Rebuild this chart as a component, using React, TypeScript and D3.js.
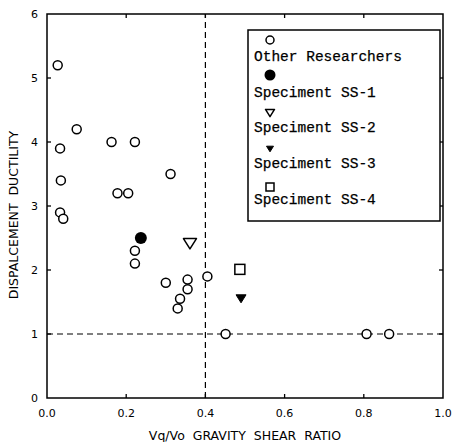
import React from "react";
import * as d3 from "d3";

// values
const otherX = [0.027, 0.075, 0.033, 0.163, 0.222, 0.312, 0.035, 0.178, 0.205, 0.033, 0.041, 0.222, 0.222, 0.3, 0.355, 0.355, 0.336, 0.33, 0.405, 0.451, 0.807, 0.864];
const otherY = [5.2, 4.2, 3.9, 4.0, 4.0, 3.5, 3.4, 3.2, 3.2, 2.9, 2.8, 2.3, 2.1, 1.8, 1.85, 1.7, 1.55, 1.4, 1.9, 1.0, 1.0, 1.0];
const specimens = ["SS-1", "SS-2", "SS-3", "SS-4"];
const specimenX = [0.237, 0.361, 0.49, 0.487];
const specimenY = [2.5, 2.41, 1.55, 2.01];
const legendLabels = ["Other Researchers", "Speciment SS-1", "Speciment SS-2", "Speciment SS-3", "Speciment SS-4"];
const xTicks = [0, 0.2, 0.4, 0.6, 0.8, 1.0];
const yTicks = [0, 1, 2, 3, 4, 5, 6];
const refX = 0.4;
const refY = 1;

const W = 455;
const H = 442;
const x = d3.scaleLinear().domain([0, 1]).range([47, 443]);
const y = d3.scaleLinear().domain([0, 6]).range([398, 14]);

const sans = "'DejaVu Sans', sans-serif";
const mono = "'Liberation Mono', monospace";

// kind 0 open circle, 1 filled circle, 2 open down triangle, 3 filled down triangle, 4 open square
const Marker = ({ kind, cx, cy, s }: { kind: number; cx: number; cy: number; s: number }) => {
  if (kind === 0) return <circle cx={cx} cy={cy} r={s} fill="white" stroke="#000" strokeWidth={1.5} />;
  if (kind === 1) return <circle cx={cx} cy={cy} r={s} fill="#000" />;
  if (kind === 2 || kind === 3) {
    const h = s * 1.6;
    const d = `M${cx - s},${cy - h / 2}L${cx + s},${cy - h / 2}L${cx},${cy + h / 2}Z`;
    return kind === 2 ? (
      <path d={d} fill="white" stroke="#000" strokeWidth={1.5} strokeLinejoin="round" />
    ) : (
      <path d={d} fill="#000" stroke="#000" strokeWidth={1} />
    );
  }
  return <rect x={cx - s} y={cy - s} width={2 * s} height={2 * s} fill="white" stroke="#000" strokeWidth={1.5} />;
};

const specimenKind = [1, 2, 3, 4];
const specimenSize = [6, 6.5, 5, 5];
const legendKind = [0, 1, 2, 3, 4];
const legendSize = [4, 5.5, 4.5, 3.5, 4];
const legendMarkY = [40, 75, 113, 149, 187];
const legendTextY = [61, 97, 132, 168, 204];

export default function App() {
  const [x0, x1] = x.range();
  const [y0, y1] = y.range();
  return (
    <svg width={W} height={H} style={{ position: "absolute", left: 0, top: 0, background: "white" }}>
      {/* reference dashed lines */}
      <line x1={x(refX)} x2={x(refX)} y1={y0} y2={y1} stroke="#000" strokeWidth={1.2} strokeDasharray="6,4" />
      <line x1={x0} x2={x1} y1={y(refY)} y2={y(refY)} stroke="#000" strokeWidth={1.2} strokeDasharray="6,4" />

      {/* frame */}
      <rect x={x0} y={y1} width={x1 - x0} height={y0 - y1} fill="none" stroke="#000" strokeWidth={1.5} />

      {/* ticks, inside on all sides */}
      {xTicks.slice(1, -1).map((t) => (
        <g key={"xt" + t}>
          <line x1={x(t)} x2={x(t)} y1={y0} y2={y0 - 4} stroke="#000" strokeWidth={1.3} />
          <line x1={x(t)} x2={x(t)} y1={y1} y2={y1 + 4} stroke="#000" strokeWidth={1.3} />
        </g>
      ))}
      {yTicks.slice(1, -1).map((t) => (
        <g key={"yt" + t}>
          <line x1={x0} x2={x0 + 4} y1={y(t)} y2={y(t)} stroke="#000" strokeWidth={1.3} />
          <line x1={x1} x2={x1 - 4} y1={y(t)} y2={y(t)} stroke="#000" strokeWidth={1.3} />
        </g>
      ))}

      {/* tick labels */}
      {xTicks.map((t) => (
        <text key={"xl" + t} x={x(t)} y={417} textAnchor="middle" fontFamily={sans} fontSize={11}>
          {t.toFixed(1)}
        </text>
      ))}
      {yTicks.map((t) => (
        <text key={"yl" + t} x={38} y={y(t) + 4} textAnchor="end" fontFamily={sans} fontSize={11}>
          {t}
        </text>
      ))}

      {/* axis titles */}
      <text x={245} y={440} textAnchor="middle" fontFamily={sans} fontSize={12.5} style={{ whiteSpace: "pre" }}>
        {"Vq/Vo  GRAVITY  SHEAR  RATIO"}
      </text>
      <text
        transform={`translate(18,215) rotate(-90)`}
        textAnchor="middle"
        fontFamily={sans}
        fontSize={12.5}
        style={{ whiteSpace: "pre" }}
      >
        {"DISPALCEMENT  DUCTILITY"}
      </text>

      {/* other researchers */}
      {otherX.map((v, i) => (
        <Marker key={"o" + i} kind={0} cx={x(v)} cy={y(otherY[i])} s={4.5} />
      ))}

      {/* specimens */}
      {specimens.map((s, i) => (
        <Marker key={s} kind={specimenKind[i]} cx={x(specimenX[i])} cy={y(specimenY[i])} s={specimenSize[i]} />
      ))}

      {/* legend */}
      <rect x={248} y={30} width={192} height={191} fill="white" stroke="#000" strokeWidth={1.5} />
      {legendLabels.map((l, i) => (
        <g key={l}>
          <Marker kind={legendKind[i]} cx={270} cy={legendMarkY[i]} s={legendSize[i]} />
          <text x={254} y={legendTextY[i]} fontFamily={mono} fontSize={14.5} stroke="#000" strokeWidth={0.25}>
            {l}
          </text>
        </g>
      ))}
    </svg>
  );
}
